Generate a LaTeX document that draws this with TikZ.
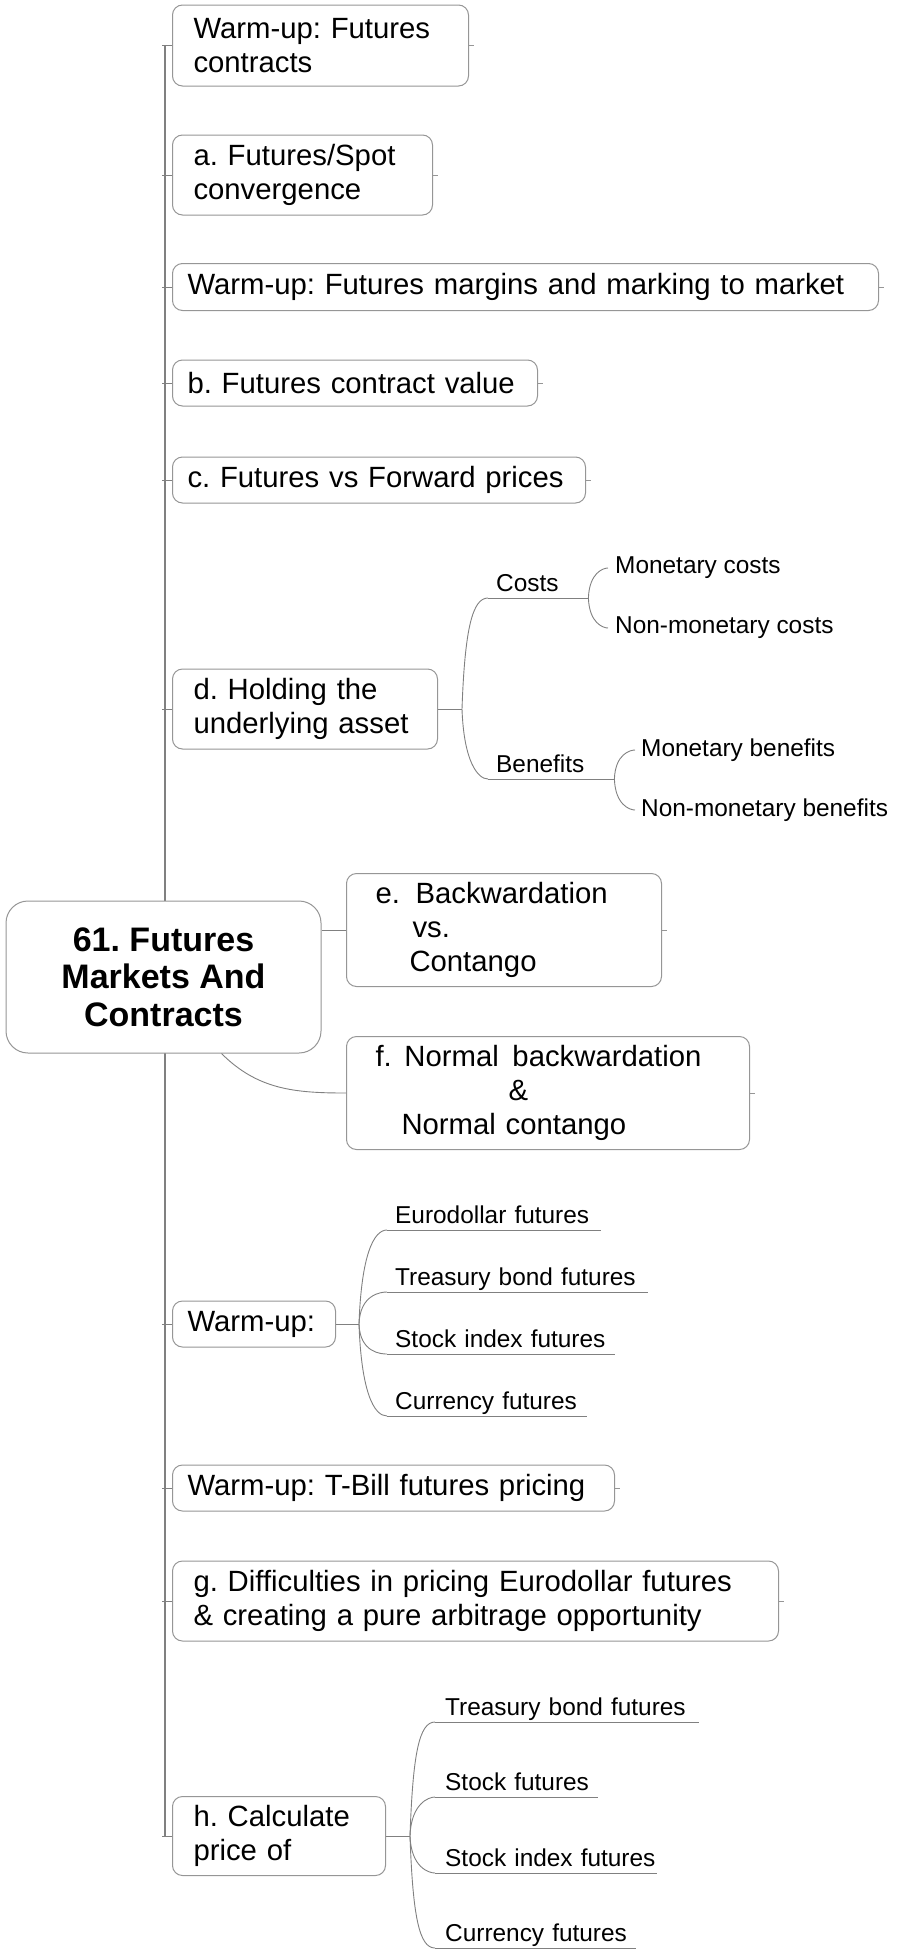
\documentclass[tikz,border=0pt]{standalone}
\usepackage{fontspec}
\setmainfont{Liberation Sans}
\frenchspacing
\definecolor{boxgray}{RGB}{150,150,150}
\definecolor{linegray}{RGB}{128,128,128}
\tikzset{
	topic/.style={draw=boxgray, fill=white, line width=1pt, rounded corners=10pt, anchor=west, align=left, inner ysep=0pt, font=\fontsize{29.3}{34}\selectfont},
	root/.style={draw=boxgray, fill=white, line width=1pt, rounded corners=22pt, align=center, minimum width=315pt, minimum height=152pt, inner sep=0pt, font=\bfseries\fontsize{34}{37.7}\selectfont},
	leaf/.style={anchor=south west, align=left, inner sep=0pt, inner ysep=6.5pt, text depth=0pt, font=\fontsize{24.4}{28}\selectfont},
	sub/.style={anchor=west, inner sep=0pt, inner xsep=7pt, font=\fontsize{24.4}{28}\selectfont},
	link/.style={draw=linegray, line width=0.9pt},
	spine/.style={draw=linegray, line width=2.2pt},
	stub/.style={draw=boxgray, line width=0.8pt},
	brace up/.style={out=88, in=180, out looseness=1.8, in looseness=0.35},
	brace down/.style={out=-88, in=180, out looseness=1.8, in looseness=0.35}
}
\begin{document}
\begin{tikzpicture}[x=1pt, y=1pt]
	\useasboundingbox (0,0) rectangle (898,-1954);
	\coordinate (spinetop) at (165,-46);
	\coordinate (spinebot) at (165,-1836);
	\draw[spine] (spinetop) -- (spinebot);

	\node[topic, inner xsep=21pt, text width=254pt, minimum height=81pt] (warmA) at (172,-45.5) {Warm-up: Futures\\contracts};
	\node[topic, inner xsep=21pt, text width=218pt, minimum height=80pt] (conv) at (172,-175) {a. Futures/Spot\\convergence};
	\node[topic, inner xsep=15pt, text width=676pt, minimum height=47pt] (margin) at (172,-287) {Warm-up: Futures margins and marking to market};
	\node[topic, inner xsep=15pt, text width=335pt, minimum height=46pt] (value) at (172,-383) {b. Futures contract value};
	\node[topic, inner xsep=15pt, text width=383pt, minimum height=46pt] (fwd) at (172,-480) {c. Futures vs Forward prices};
	\node[topic, inner xsep=21pt, text width=223pt, minimum height=80pt] (hold) at (172,-709) {d. Holding the\\underlying asset};
	\node[root] (root) at (163.5,-977) {61. Futures\\Markets And\\Contracts};
	\node[topic, inner xsep=29pt, text width=257pt, minimum height=113pt] (backw) at (346,-930) {e.\hspace{15.6pt}Backwardation\\\hspace*{37pt}vs.\\\hspace*{34pt}Contango};
	\node[topic, inner xsep=29pt, text width=345pt, minimum height=113pt] (normbackw) at (346,-1093) {f.\hspace{12.7pt}Normal\hspace{13.6pt}backwardation\\\hspace*{133pt}\&\\\hspace*{26pt}Normal contango};
	\node[topic, inner xsep=15pt, text width=133pt, minimum height=46pt] (warmB) at (172,-1324) {Warm-up:};
	\node[topic, inner xsep=15pt, text width=412pt, minimum height=46pt] (tbill) at (172,-1488) {Warm-up: T-Bill futures pricing};
	\node[topic, inner xsep=21pt, text width=564pt, minimum height=80pt] (arb) at (172,-1601) {g. Difficulties in pricing Eurodollar futures\\\& creating a pure arbitrage opportunity};
	\node[topic, inner xsep=21pt, text width=171pt, minimum height=79pt] (calc) at (172,-1836) {h. Calculate\\price of};

	\node[leaf, text width=100pt] (costs) at (488,-598) {\hspace*{8pt}Costs};
	\node[leaf, text width=126pt] (benefits) at (488,-779) {\hspace*{8pt}Benefits};
	\node[sub] (moncost) at (608,-568) {Monetary costs};
	\node[sub] (nonmoncost) at (608,-628) {Non-monetary costs};
	\node[sub, inner xsep=6pt] (monben) at (635,-750) {Monetary benefits};
	\node[sub, inner xsep=6pt] (nonmonben) at (635,-810) {Non-monetary benefits};

	\node[leaf, text width=214pt] (euro) at (387,-1230) {\hspace*{8pt}Eurodollar futures};
	\node[leaf, text width=261pt] (tbond) at (387,-1292) {\hspace*{8pt}Treasury bond futures};
	\node[leaf, text width=228pt] (stkidx) at (387,-1354) {\hspace*{8pt}Stock index futures};
	\node[leaf, text width=200pt] (curr) at (387,-1416) {\hspace*{8pt}Currency futures};

	\node[leaf, text width=264pt] (tbondB) at (435,-1722) {\hspace*{10pt}Treasury bond futures};
	\node[leaf, text width=163pt] (stock) at (435,-1797) {\hspace*{10pt}Stock futures};
	\node[leaf, text width=222pt] (stkidxB) at (435,-1873) {\hspace*{10pt}Stock index futures};
	\node[leaf, text width=201pt] (currB) at (435,-1948) {\hspace*{10pt}Currency futures};

	\coordinate (holdbr) at (462,-709);
	\coordinate (warmbr) at (359,-1324);
	\coordinate (calcbr) at (410,-1836);

	\foreach \n in {warmA,conv,margin,value,fwd,hold,warmB,tbill,arb,calc}
		\draw[link] ([xshift=-3pt]\n.west -| spinetop) -- (\n.west);
	\foreach \n in {warmA,conv,margin,value,fwd,backw,normbackw,tbill,arb}
		\draw[stub] (\n.east) -- ++(5,0);
	\foreach \n in {costs,benefits,euro,tbond,stkidx,curr,tbondB,stock,stkidxB,currB}
		\draw[link] (\n.south west) -- (\n.south east);

	\draw[link] (root.east |- backw.west) -- (backw.west);
	\draw[link] ([xshift=58pt]root.south) to[out=-45, in=180] (normbackw.west);

	\draw[link] (hold.east) -- (holdbr);
	\draw[link] (holdbr) to[brace up] (costs.south west);
	\draw[link] (holdbr) to[brace down] (benefits.south west);
	\draw[link] (costs.south east) to[brace up] (moncost.west);
	\draw[link] (costs.south east) to[brace down] (nonmoncost.west);
	\draw[link] (benefits.south east) to[brace up] (monben.west);
	\draw[link] (benefits.south east) to[brace down] (nonmonben.west);

	\draw[link] (warmB.east) -- (warmbr);
	\draw[link] (warmbr) to[brace up] (euro.south west);
	\draw[link] (warmbr) to[brace up] (tbond.south west);
	\draw[link] (warmbr) to[brace down] (stkidx.south west);
	\draw[link] (warmbr) to[brace down] (curr.south west);

	\draw[link] (calc.east) -- (calcbr);
	\draw[link] (calcbr) to[brace up] (tbondB.south west);
	\draw[link] (calcbr) to[brace up] (stock.south west);
	\draw[link] (calcbr) to[brace down] (stkidxB.south west);
	\draw[link] (calcbr) to[brace down] (currB.south west);
\end{tikzpicture}
\end{document}
